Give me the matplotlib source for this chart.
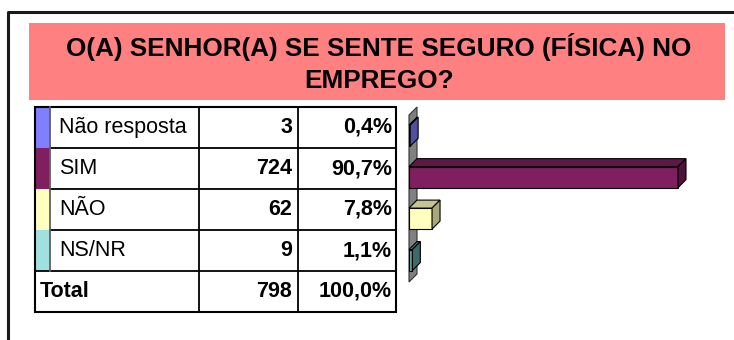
import matplotlib
matplotlib.use('Agg')
from matplotlib import pyplot as plt
from matplotlib.patches import Rectangle, Polygon

categories = ['Não resposta', 'SIM', 'NÃO', 'NS/NR']
counts = [3, 724, 62, 9]
front_colours = ['#8080FF', '#7F1F5F', '#FFFFC0', '#66A3A3']
top_colours = ['#6060C0', '#5F1747', '#C4C494', '#4F8080']
side_colours = ['#5050A0', '#4F133B', '#A8A878', '#3F6868']
swatch_colours = ['#8080FF', '#7F1F5F', '#FFFFC0', '#A0E0E0']
title = 'O(A) SENHOR(A) SE SENTE SEGURO (FÍSICA) NO\nEMPREGO?'

total = sum(counts)
pcts = [f'{100 * c / total:.1f}%'.replace('.', ',') for c in counts]

plt.rcParams['font.family'] = ['Liberation Sans', 'DejaVu Sans']

W, H = 734, 340
fig = plt.figure(figsize=(W / 100, H / 100), dpi=100)

# background layer in pixel coordinates: frame, title box and table
bg = fig.add_axes([0, 0, 1, 1])
bg.set_xlim(0, W)
bg.set_ylim(H, 0)
bg.axis('off')

bg.plot([8, 8, W], [H, 12, 12], color='#1a1a1a', lw=2.2, solid_capstyle='butt')
bg.add_patch(Rectangle((29, 23), 696, 77, facecolor='#FF8080', edgecolor='none'))
bg.text(379, 63, title, ha='center', va='center', fontsize=18.8,
        fontweight='bold', linespacing=1.38)

fs = 15.5
x0, xs, xl, xn, xr = 35, 50, 199, 298, 396
y0, rh = 107, 41
n = len(categories)
for i, cat in enumerate(categories):
    yt = y0 + i * rh
    bg.add_patch(Rectangle((x0, yt), xs - x0, rh, facecolor=swatch_colours[i],
                           edgecolor='none'))
    bg.text(xs + 9, yt + rh / 2, cat, ha='left', va='center', fontsize=fs)
    bg.text(xn - 6, yt + rh / 2, str(counts[i]), ha='right', va='center',
            fontsize=fs, fontweight='bold')
    bg.text(xr - 4, yt + rh / 2, pcts[i], ha='right', va='center',
            fontsize=fs, fontweight='bold')
    if i > 0:
        bg.plot([xs, xr], [yt, yt], color='black', lw=1.3)
yt = y0 + n * rh
bg.text(x0 + 5, yt + rh / 2, 'Total', ha='left', va='center', fontsize=fs,
        fontweight='bold')
bg.text(xn - 6, yt + rh / 2, str(total), ha='right', va='center',
        fontsize=fs, fontweight='bold')
bg.text(xr - 4, yt + rh / 2, '100,0%', ha='right', va='center',
        fontsize=fs, fontweight='bold')
bg.plot([x0, xr], [yt, yt], color='black', lw=1.3)
bg.plot([xs, xs], [y0, yt], color='#606060', lw=1.3)
for x in (xl, xn):
    bg.plot([x, x], [y0, yt + rh], color='black', lw=1.3)
bg.add_patch(Rectangle((x0, y0), xr - x0, (n + 1) * rh, facecolor='none',
                       edgecolor='black', lw=1.5))

# 3D-looking horizontal bar chart
left_px, right_px, top_px, bot_px = 409, 720, 115, 282
ax = fig.add_axes([left_px / W, 1 - bot_px / H,
                   (right_px - left_px) / W, (bot_px - top_px) / H])
ax.axis('off')
px_per_unit = 269 / 724
ax.set_xlim(0, (right_px - left_px) / px_per_unit)
ax.set_ylim(3.53, -0.5)
cat_px = (bot_px - top_px) / 4.03
dx = 8 / px_per_unit
dy = 8 / cat_px
bh = 21 / cat_px

# back wall
ax.add_patch(Polygon([(0, -0.5), (dx, -0.5 - dy), (dx, 3.53 - dy), (0, 3.53)],
                     closed=True, facecolor='#808080', edgecolor='#333333',
                     lw=0.8, clip_on=False))

for i, v in enumerate(counts):
    top, bot = i - bh / 2, i + bh / 2
    ax.barh(i, v, height=bh, color=front_colours[i], edgecolor='black',
            lw=0.8, zorder=3)
    ax.add_patch(Polygon([(0, top), (v, top), (v + dx, top - dy), (dx, top - dy)],
                         closed=True, facecolor=top_colours[i],
                         edgecolor='black', lw=0.8, zorder=3, clip_on=False))
    ax.add_patch(Polygon([(v, top), (v + dx, top - dy), (v + dx, bot - dy), (v, bot)],
                         closed=True, facecolor=side_colours[i],
                         edgecolor='black', lw=0.8, zorder=3, clip_on=False))

fig.savefig('out.png', dpi=100)
